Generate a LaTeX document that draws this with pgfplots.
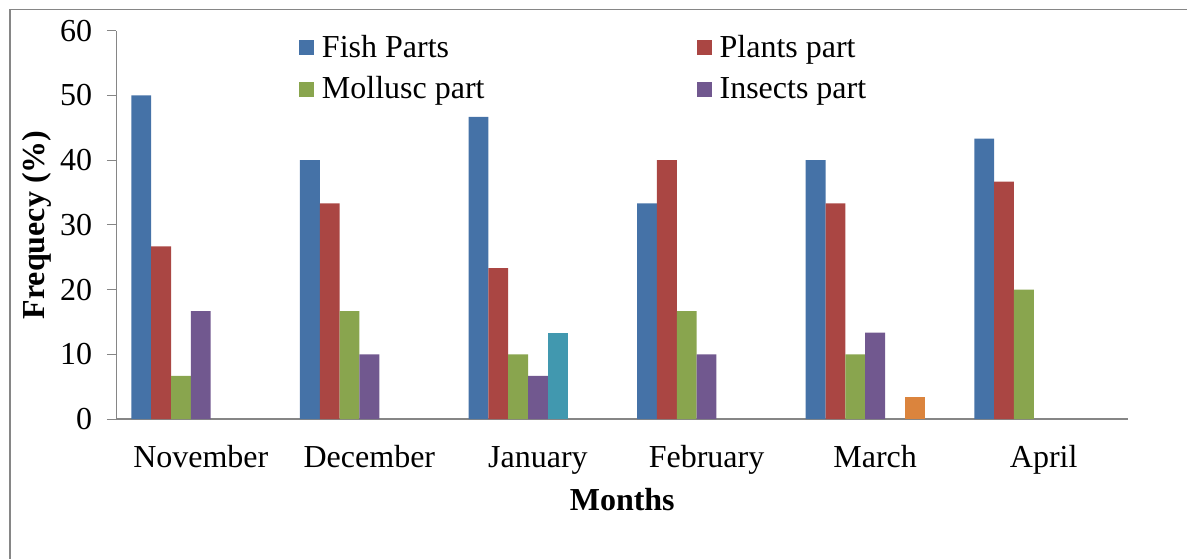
\documentclass[border=0pt]{standalone}
\usepackage{fontspec}
\setmainfont{Liberation Serif}
\usepackage{pgfplots}
\pgfplotsset{compat=1.18}
\definecolor{cblue}{HTML}{4572A7}
\definecolor{cred}{HTML}{AA4643}
\definecolor{cgreen}{HTML}{89A54E}
\definecolor{cpurple}{HTML}{71588F}
\definecolor{cteal}{HTML}{4198AF}
\definecolor{corange}{HTML}{DB843D}
\definecolor{axgray}{HTML}{868686}
\begin{document}
\begin{tikzpicture}
\useasboundingbox (0,0) rectangle (593.5pt,279pt);
\draw[axgray, line width=0.75pt] (5pt,-2pt) -- (5pt,274.25pt) -- (600pt,274.25pt);
\begin{axis}[
  at={(58.25pt,69.5pt)}, anchor=south west,
  scale only axis, width=505.75pt, height=194.15pt,
  xmin=-0.5, xmax=5.5, ymin=0, ymax=60,
  ytick={0,10,...,60},
  xtick={0,1,2,3,4,5},
  xticklabels={November,December,January,February,March,April},
  axis x line=bottom, axis y line=left,
  x axis line style={-, axgray, line width=1pt},
  y axis line style={-, axgray, line width=0.5pt},
  x tick style={draw=none},
  y tick style={axgray, line width=0.5pt}, major tick length=4.75pt, tick align=outside,
  /pgf/number format/assume math mode=true,
  tick label style={font=\fontsize{16}{19}\selectfont},
  yticklabel style={anchor=east, inner sep=0pt, xshift=-7.25pt},
  xticklabel style={anchor=base, inner sep=0pt, yshift=-19.25pt},
  xlabel={Months}, ylabel={Frequecy (\%)},
  label style={font=\fontsize{16}{19}\selectfont\bfseries},
  xlabel style={at={(axis description cs:0.5,0)}, anchor=base, inner sep=0pt, yshift=-45.5pt},
  ylabel style={at={(axis description cs:-0.0786,0.5)}, anchor=center, inner sep=0pt},
  ybar, bar width=0.11765, 
  every axis plot/.append style={draw=none},
  legend columns=2,
  legend image code/.code={\fill[#1] (0pt,1pt) rectangle (7.5pt,8.5pt);},
  legend style={draw=none, fill=none, inner sep=0pt, outer sep=0pt,
    font=\fontsize{16}{19}\selectfont,
    cells={anchor=base west},
    nodes={inner sep=0pt},
    at={(axis description cs:0.1804,1)}, anchor=north west, yshift=-2.2pt,
    row sep=8.1pt,
    /tikz/every odd column/.append style={column sep=4pt},
    /tikz/every even column/.append style={column sep=106pt}},
]
\addplot[fill=cblue, bar shift=-0.35294] coordinates {(0,50) (1,40) (2,46.67) (3,33.33) (4,40) (5,43.33)};
\addlegendentry{Fish Parts}
\addplot[fill=cred, bar shift=-0.23529] coordinates {(0,26.67) (1,33.33) (2,23.33) (3,40) (4,33.33) (5,36.67)};
\addlegendentry{Plants part}
\addplot[fill=cgreen, bar shift=-0.11765] coordinates {(0,6.67) (1,16.67) (2,10) (3,16.67) (4,10) (5,20)};
\addlegendentry{Mollusc part}
\addplot[fill=cpurple, bar shift=0] coordinates {(0,16.67) (1,10) (2,6.67) (3,10) (4,13.33)};
\addlegendentry{Insects part}
\addplot[fill=cteal, bar shift=0.11765, forget plot] coordinates {(2,13.33)};
\addplot[fill=corange, bar shift=0.23529, forget plot] coordinates {(4,3.33)};
\end{axis}
\end{tikzpicture}
\end{document}
